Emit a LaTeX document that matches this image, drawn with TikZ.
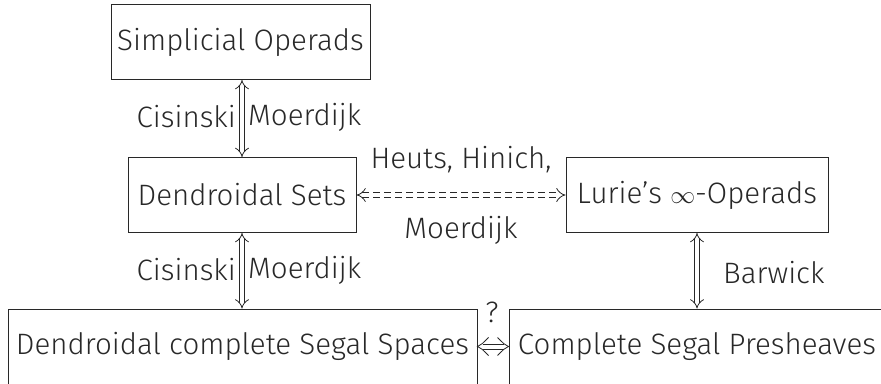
\documentclass[tikz,border=0pt]{standalone}
\usepackage{fontspec}
\setmainfont{Fira Sans Light}
\usetikzlibrary{arrows.meta}
\definecolor{ink}{RGB}{40,40,40}
\begin{document}
\begin{tikzpicture}[x=1pt,y=-1pt,
  every node/.style={font=\fontsize{29.5}{34}\selectfont, text=ink},
  box/.style={draw=ink, line width=1pt, inner sep=0pt, minimum height=75pt},
  dline/.style={draw=ink, double=white, double distance=4.2pt, line width=0.8pt},
  dar/.style={dline, {Implies[scale=1.7]}-{Implies[scale=1.7]}},
  thin/.style={draw=ink, line width=0.8pt},
  lbl/.style={inner sep=0pt}]
\useasboundingbox (0,0) rectangle (881,383);
\clip (0,0) rectangle (881,383);
\node[box, minimum width=259pt] (so) at (240.5,42) {Simplicial Operads};
\node[box, minimum width=228pt] (ds) at (242,195) {Dendroidal Sets};
\node[box, minimum width=262pt] (lu) at (697,195) {Lurie’s $\infty$-Operads};
\node[box, minimum width=469pt] (dc) at (242.5,346.5) {Dendroidal complete Segal Spaces};
\node[box, minimum width=376pt] (cs) at (697,346.5) {Complete Segal Presheaves};
\draw[dar] (so.south -| ds.south) -- (ds.north);
\draw[dar] (ds.south) -- (dc.north -| ds.south);
\draw[dar] (lu.south) -- (cs.north -| lu.south);
\draw[dar, dash pattern=on 7pt off 4pt] (ds.east) -- (lu.west);
\coordinate (b1) at (dc.east |- cs.west);
\coordinate (b2) at (cs.west);
\draw[thin] ([xshift=5pt,yshift=2.6pt]b1) -- ([xshift=-5pt,yshift=2.6pt]b2);
\draw[thin] ([xshift=5pt,yshift=-2.6pt]b1) -- ([xshift=-5pt,yshift=-2.6pt]b2);
\draw[thin] ([xshift=11pt,yshift=9pt]b1) .. controls ([xshift=4pt,yshift=2pt]b1) .. (b1)
  .. controls ([xshift=4pt,yshift=-2pt]b1) .. ([xshift=11pt,yshift=-9pt]b1);
\draw[thin] ([xshift=-11pt,yshift=9pt]b2) .. controls ([xshift=-4pt,yshift=2pt]b2) .. (b2)
  .. controls ([xshift=-4pt,yshift=-2pt]b2) .. ([xshift=-11pt,yshift=-9pt]b2);
\node[lbl, anchor=east] (c1) at (236,117) {Cisinski};
\node[lbl, anchor=west] (m1) at (248,117) {Moerdijk};
\node[lbl, anchor=east] (c2) at (236,270) {Cisinski};
\node[lbl, anchor=west] (m2) at (248,270) {Moerdijk};
\node[lbl] (hh) at (461,160) {Heuts, Hinich,};
\node[lbl] (mo) at (461,230) {Moerdijk};
\node[lbl, anchor=west] (bw) at (723,273) {Barwick};
\node[lbl] (q) at (492,312) {?};
\end{tikzpicture}
\end{document}
